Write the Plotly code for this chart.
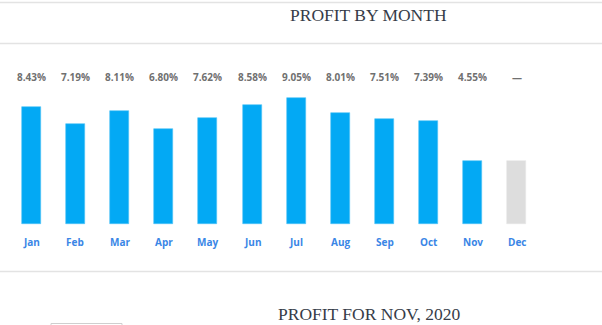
import plotly.graph_objects as go

months = ["Jan", "Feb", "Mar", "Apr", "May", "Jun", "Jul", "Aug", "Sep", "Oct", "Nov", "Dec"]
profit_pct = [8.43, 7.19, 8.11, 6.80, 7.62, 8.58, 9.05, 8.01, 7.51, 7.39, 4.55, None]
bar_heights = [8.43, 7.19, 8.11, 6.80, 7.62, 8.58, 9.05, 8.01, 7.51, 7.39, 4.55, 4.55]
title_main = "PROFIT BY MONTH"
title_next = "PROFIT FOR NOV, 2020"

W, H = 602, 325
colors = ["#03A9F4" if v is not None else "#DDDDDD" for v in profit_pct]
line_colors = ["#4FC3F7" if v is not None else "#E6E6E6" for v in profit_pct]
labels = [f"{v:.2f}%" if v is not None else "—" for v in profit_pct]

xs = list(range(len(months)))
fig = go.Figure()
fig.add_trace(go.Bar(
    x=xs, y=bar_heights, width=0.43,
    marker=dict(color=colors, line=dict(color=line_colors, width=0.6)),
    hoverinfo="skip", showlegend=False,
))

# x mapping: center of first bar at 31.3px, spacing 44.15px
px_per_unit = 44.15
x0 = -31.3 / px_per_unit
x1 = x0 + W / px_per_unit
# y mapping: baseline at 224px, 13.92 px per unit
py_per_unit = 13.92
y0 = -(H - 224) / py_per_unit
y1 = y0 + H / py_per_unit

def ypix_to_paper(p):
    return 1 - p / H

annotations = []
for i, (lab, m) in enumerate(zip(labels, months)):
    annotations.append(dict(x=i, y=ypix_to_paper(76.5), xref="x", yref="paper", text=lab,
                            showarrow=False, yanchor="middle",
                            font=dict(family="Open Sans", size=10, color="#707070", weight=700)))
    annotations.append(dict(x=i, y=ypix_to_paper(242), xref="x", yref="paper", text=m,
                            showarrow=False, yanchor="middle",
                            font=dict(family="Open Sans", size=10, color="#3a86e6", weight=700)))
annotations.append(dict(x=368.5 / W, y=ypix_to_paper(15), xref="paper", yref="paper", text=title_main,
                        showarrow=False, yanchor="middle",
                        font=dict(family="Liberation Serif", size=17.5, color="#363c48")))
annotations.append(dict(x=369 / W, y=ypix_to_paper(314), xref="paper", yref="paper", text=title_next,
                        showarrow=False, yanchor="middle",
                        font=dict(family="Liberation Serif", size=17.5, color="#363c48")))

shapes = []
for yp in [2.5, 43.5, 271.5]:
    shapes.append(dict(type="line", xref="paper", yref="paper", x0=0, x1=1,
                       y0=ypix_to_paper(yp), y1=ypix_to_paper(yp),
                       line=dict(color="#e3e3e3", width=1.5)))
shapes.append(dict(type="rect", xref="paper", yref="paper", x0=51 / W, x1=122 / W,
                   y0=ypix_to_paper(340), y1=ypix_to_paper(323.5),
                   line=dict(color="#cfcfcf", width=1), fillcolor="rgba(0,0,0,0)"))

fig.update_layout(
    width=W, height=H,
    margin=dict(l=0, r=0, t=0, b=0),
    paper_bgcolor="white", plot_bgcolor="white",
    xaxis=dict(range=[x0, x1], visible=False, fixedrange=True),
    yaxis=dict(range=[y0, y1], visible=False, fixedrange=True),
    annotations=annotations, shapes=shapes,
    bargap=0,
)
fig.write_html("out.html", config={"displayModeBar": False})
